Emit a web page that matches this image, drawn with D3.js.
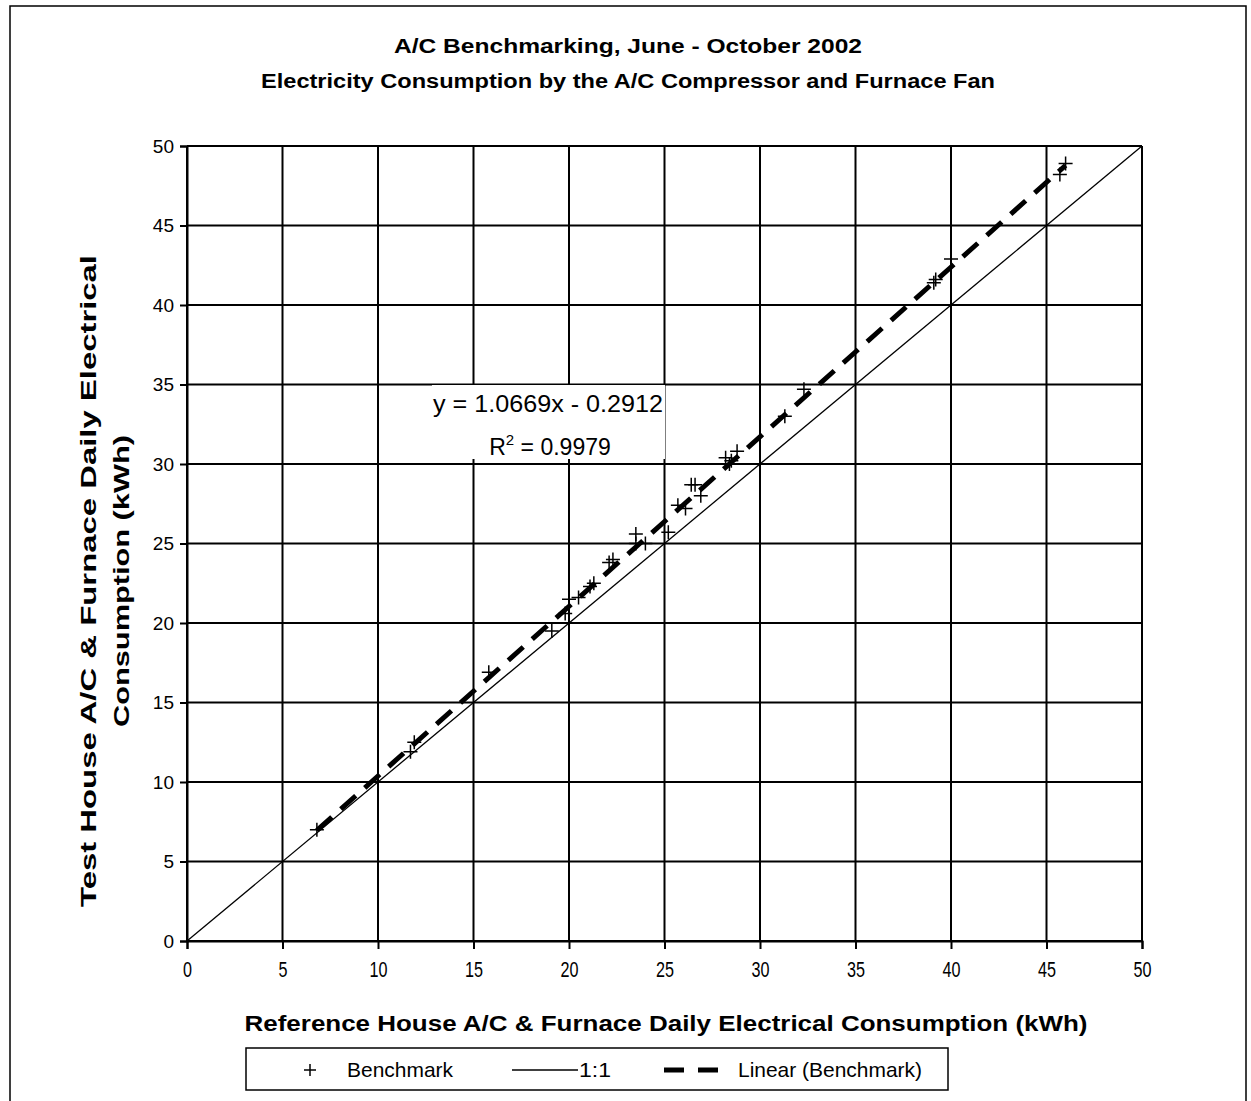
<!DOCTYPE html>
<html>
<head>
<meta charset="utf-8">
<script src="https://cdn.jsdelivr.net/npm/d3@7"></script>
<style>
  body { margin: 0; background: #fff; }
  svg { font-family: "Liberation Sans", Arial, sans-serif; }
</style>
</head>
<body>
<svg width="1251" height="1101"></svg>
<script>
// benchmark points (reference kWh, test kWh)
var benchX = [6.8, 11.7, 11.9, 15.8, 19.1, 19.8, 20.0, 20.5, 21.1, 21.3, 22.1, 22.3,
  23.5, 23.5, 24.0, 25.2, 25.7, 26.1, 26.4, 26.6, 26.9, 28.2, 28.5, 28.4, 28.8,
  31.3, 32.3, 39.1, 39.2, 40.0, 45.7, 46.0];
var benchY = [7.0, 11.9, 12.5, 16.9, 19.5, 20.6, 21.5, 21.6, 22.3, 22.5, 23.8, 24.0,
  25.6, 25.0, 25.0, 25.7, 27.4, 27.2, 28.7, 28.7, 28.0, 30.4, 30.2, 30.0, 30.8,
  33.0, 34.7, 41.4, 41.6, 42.9, 48.2, 48.9];
var slope = 1.0669, intercept = -0.2912;
var ticks = [0, 5, 10, 15, 20, 25, 30, 35, 40, 45, 50];

var svg = d3.select('svg');
var plotLeft = 187, plotRight = 1142, plotTop = 146, plotBottom = 941;

var x = d3.scaleLinear().domain([0, 50]).range([plotLeft, plotRight]);
var y = d3.scaleLinear().domain([0, 50]).range([plotBottom, plotTop]);

// outer frame
svg.append('path')
  .attr('d', 'M10,1101 V6 H1246 V1101')
  .attr('fill', 'none').attr('stroke', '#000').attr('stroke-width', 1.5);

// titles
var titles = [
  { t: 'A/C Benchmarking, June - October 2002', y: 53, w: 468 },
  { t: 'Electricity Consumption by the A/C Compressor and Furnace Fan', y: 88, w: 734 }
];
svg.selectAll('.title').data(titles).enter().append('text')
  .attr('x', 628).attr('y', function (d) { return d.y; })
  .attr('text-anchor', 'middle')
  .attr('font-weight', 'bold').attr('font-size', 20)
  .attr('textLength', function (d) { return d.w; })
  .attr('lengthAdjust', 'spacingAndGlyphs')
  .text(function (d) { return d.t; });

// grid
var g = svg.append('g');
g.selectAll('.hg').data(ticks).enter().append('line')
  .attr('x1', plotLeft).attr('x2', plotRight)
  .attr('y1', function (d) { return y(d); }).attr('y2', function (d) { return y(d); })
  .attr('stroke', '#000').attr('stroke-width', 2);
g.selectAll('.vg').data(ticks).enter().append('line')
  .attr('y1', plotTop).attr('y2', plotBottom)
  .attr('x1', function (d) { return x(d); }).attr('x2', function (d) { return x(d); })
  .attr('stroke', '#000').attr('stroke-width', 2);

// axes
var xAxis = d3.axisBottom(x).tickValues(ticks).tickSize(8).tickPadding(12);
var yAxis = d3.axisLeft(y).tickValues(ticks).tickSize(7).tickPadding(6);

svg.append('g').attr('transform', 'translate(0,' + plotBottom + ')').call(function (a) {
  a.call(xAxis);
  a.select('.domain').attr('stroke-width', 2);
  a.selectAll('.tick line').attr('stroke-width', 2);
  a.selectAll('.tick text').attr('font-size', 22).attr('fill', '#000')
    .attr('font-family', '"Liberation Sans", Arial, sans-serif')
    .attr('textLength', function (d) { return d < 10 ? 9 : 18; })
    .attr('lengthAdjust', 'spacingAndGlyphs');
});
svg.append('g').attr('transform', 'translate(' + plotLeft + ',0)').call(function (a) {
  a.call(yAxis);
  a.select('.domain').attr('stroke-width', 2);
  a.selectAll('.tick line').attr('stroke-width', 2);
  a.selectAll('.tick text').attr('font-size', 19).attr('fill', '#000')
    .attr('font-family', '"Liberation Sans", Arial, sans-serif');
});

// 1:1 line
svg.append('line')
  .attr('x1', x(0)).attr('y1', y(0)).attr('x2', x(50)).attr('y2', y(50))
  .attr('stroke', '#000').attr('stroke-width', 1.3);

// trend line over data range
var xmin = d3.min(benchX), xmax = d3.max(benchX);
svg.append('line')
  .attr('x1', x(xmin)).attr('y1', y(slope * xmin + intercept))
  .attr('x2', x(xmax)).attr('y2', y(slope * xmax + intercept))
  .attr('stroke', '#000').attr('stroke-width', 5)
  .attr('stroke-dasharray', '20,12');

// benchmark crosses
var pts = benchX.map(function (v, i) { return [v, benchY[i]]; });
svg.selectAll('.pt').data(pts).enter().append('path')
  .attr('transform', function (d) { return 'translate(' + x(d[0]) + ',' + y(d[1]) + ')'; })
  .attr('d', 'M-7,0H7M0,-7V7')
  .attr('stroke', '#000').attr('stroke-width', 1.5).attr('fill', 'none');

// equation box
svg.append('rect').attr('x', 432).attr('y', 385).attr('width', 233).attr('height', 74)
  .attr('fill', '#fff');
svg.append('text').attr('x', 548).attr('y', 412).attr('text-anchor', 'middle')
  .attr('font-size', 23).attr('textLength', 230).attr('lengthAdjust', 'spacingAndGlyphs')
  .text('y = 1.0669x - 0.2912');
var r2 = svg.append('text').attr('x', 550).attr('y', 455).attr('text-anchor', 'middle')
  .attr('font-size', 23);
r2.append('tspan').text('R');
r2.append('tspan').attr('font-size', 15).attr('dy', -10).text('2');
r2.append('tspan').attr('dy', 10).text(' = 0.9979');

// axis titles
svg.append('text')
  .attr('x', 666).attr('y', 1031).attr('text-anchor', 'middle')
  .attr('font-weight', 'bold').attr('font-size', 22)
  .attr('textLength', 843).attr('lengthAdjust', 'spacingAndGlyphs')
  .text('Reference House A/C & Furnace Daily Electrical Consumption (kWh)');

var yTitle = svg.append('g').attr('transform', 'translate(96,581) rotate(-90)');
yTitle.append('text').attr('x', 0).attr('y', 0).attr('text-anchor', 'middle')
  .attr('font-weight', 'bold').attr('font-size', 22)
  .attr('textLength', 652).attr('lengthAdjust', 'spacingAndGlyphs')
  .text('Test House A/C & Furnace Daily Electrical');
yTitle.append('text').attr('x', 0).attr('y', 33).attr('text-anchor', 'middle')
  .attr('font-weight', 'bold').attr('font-size', 22)
  .attr('textLength', 292).attr('lengthAdjust', 'spacingAndGlyphs')
  .text('Consumption (kWh)');

// legend
var lg = svg.append('g');
lg.append('rect').attr('x', 246).attr('y', 1048).attr('width', 702).attr('height', 42)
  .attr('fill', '#fff').attr('stroke', '#000').attr('stroke-width', 1.5);
lg.append('path').attr('d', 'M304,1070H316M310,1064V1076')
  .attr('stroke', '#000').attr('stroke-width', 1.5);
lg.append('line').attr('x1', 512).attr('x2', 578).attr('y1', 1070).attr('y2', 1070)
  .attr('stroke', '#000').attr('stroke-width', 1.3);
lg.append('line').attr('x1', 664).attr('x2', 720).attr('y1', 1070).attr('y2', 1070)
  .attr('stroke', '#000').attr('stroke-width', 5).attr('stroke-dasharray', '20,14');
var legendLabels = [
  { t: 'Benchmark', x: 347, w: 106 },
  { t: '1:1', x: 579, w: 32 },
  { t: 'Linear (Benchmark)', x: 738, w: 184 }
];
lg.selectAll('.lt').data(legendLabels).enter().append('text')
  .attr('x', function (d) { return d.x; }).attr('y', 1077)
  .attr('font-size', 21)
  .attr('textLength', function (d) { return d.w; })
  .attr('lengthAdjust', 'spacingAndGlyphs')
  .text(function (d) { return d.t; });
</script>
</body>
</html>
